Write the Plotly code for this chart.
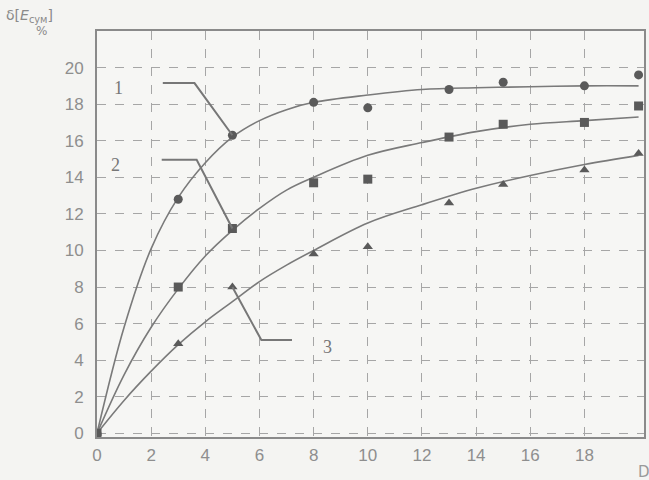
import plotly.graph_objects as go

# measured points
x_pts = [0, 3, 5, 8, 10, 13, 15, 18, 20]
s1_pts = [0, 12.8, 16.3, 18.1, 17.8, 18.8, 19.2, 19.0, 19.6]
s2_pts = [0, 8.0, 11.2, 13.7, 13.9, 16.2, 16.9, 17.0, 17.9]
s3_pts = [0, 4.9, 8.0, 9.8, 10.2, 12.6, 13.6, 14.4, 15.3]

# fitted curves
x_curve = [0, 1, 2, 3, 4, 5, 6, 7, 8, 10, 12, 14, 16, 18, 20]
c1 = [0, 5.8, 10.1, 12.9, 14.8, 16.2, 17.1, 17.7, 18.1, 18.5, 18.8, 18.9, 18.95, 19.0, 19.0]
c2 = [0, 3.2, 5.8, 7.9, 9.7, 11.1, 12.3, 13.3, 14.0, 15.2, 15.9, 16.5, 16.9, 17.1, 17.3]
c3 = [0, 1.8, 3.4, 4.85, 6.1, 7.2, 8.3, 9.2, 10.0, 11.5, 12.5, 13.4, 14.1, 14.7, 15.2]

x_ticks = [0, 2, 4, 6, 8, 10, 12, 14, 16, 18]
y_ticks = [0, 2, 4, 6, 8, 10, 12, 14, 16, 18, 20]

curve_col = "#7a7a7a"
mark_col = "#5a5a5a"

fig = go.Figure()
for cy in (c1, c2, c3):
    fig.add_trace(go.Scatter(x=x_curve, y=cy, mode="lines", line=dict(color=curve_col, width=1.6, shape="spline"),
                             showlegend=False, hoverinfo="skip"))
for sy, sym, sz in ((s1_pts, "circle", 9), (s2_pts, "square", 9), (s3_pts, "triangle-up", 9)):
    fig.add_trace(go.Scatter(x=x_pts, y=sy, mode="markers", marker=dict(symbol=sym, size=sz, color=mark_col),
                             showlegend=False))

line_style = dict(color="#777777", width=2)
# leader lines
fig.add_trace(go.Scatter(x=[2.43, 3.6, 5.0], y=[19.15, 19.15, 16.3], mode="lines", line=line_style,
                         showlegend=False, hoverinfo="skip"))
fig.add_trace(go.Scatter(x=[2.39, 3.68, 5.0], y=[14.96, 14.96, 11.2], mode="lines", line=line_style,
                         showlegend=False, hoverinfo="skip"))
fig.add_trace(go.Scatter(x=[5.0, 6.07, 7.2], y=[8.0, 5.1, 5.1], mode="lines", line=line_style,
                         showlegend=False, hoverinfo="skip"))

lab_font = dict(family="Liberation Serif", size=18, color="#777777")
fig.add_annotation(x=0.8, y=18.9, text="1", showarrow=False, font=lab_font)
fig.add_annotation(x=0.7, y=14.7, text="2", showarrow=False, font=lab_font)
fig.add_annotation(x=8.5, y=4.7, text="3", showarrow=False, font=lab_font)

fig.add_annotation(xref="paper", yref="paper", x=-0.17, y=1.037, xanchor="left", yanchor="middle",
                   text="δ[<i>E</i><sub>сум</sub>]", showarrow=False,
                   font=dict(family="DejaVu Sans", size=14, color="#8a8a8a"))
fig.add_annotation(xref="paper", yref="paper", x=-0.115, y=1.0, xanchor="left", yanchor="middle",
                   text="%", showarrow=False, font=dict(family="DejaVu Sans", size=12, color="#8a8a8a"))
fig.add_annotation(xref="paper", yref="paper", x=0.985, y=-0.06, xanchor="left", yanchor="top",
                   text="D", showarrow=False, font=dict(family="DejaVu Sans", size=15, color="#9a9a9a"))

axis_common = dict(showgrid=True, gridcolor="#a6a6a6", griddash="dash", gridwidth=1,
                   showline=True, linecolor="#8a8a8a", linewidth=2, mirror=True,
                   ticks="", zeroline=False,
                   tickfont=dict(family="Liberation Sans", size=17, color="#8e8e8e"))
fig.update_xaxes(range=[0, 20.2], tickvals=x_ticks, ticklabelstandoff=2, **axis_common)
fig.update_yaxes(range=[-0.2, 22.0], tickvals=y_ticks, ticklabelstandoff=8, **axis_common)

fig.update_layout(width=649, height=480, margin=dict(l=97, r=3, t=31, b=43),
                  paper_bgcolor="#f4f4f2", plot_bgcolor="#f6f6f4")
fig.write_html("out.html", config={"displayModeBar": False},
               post_script="document.body.style.margin='0';document.body.style.overflow='hidden';")
